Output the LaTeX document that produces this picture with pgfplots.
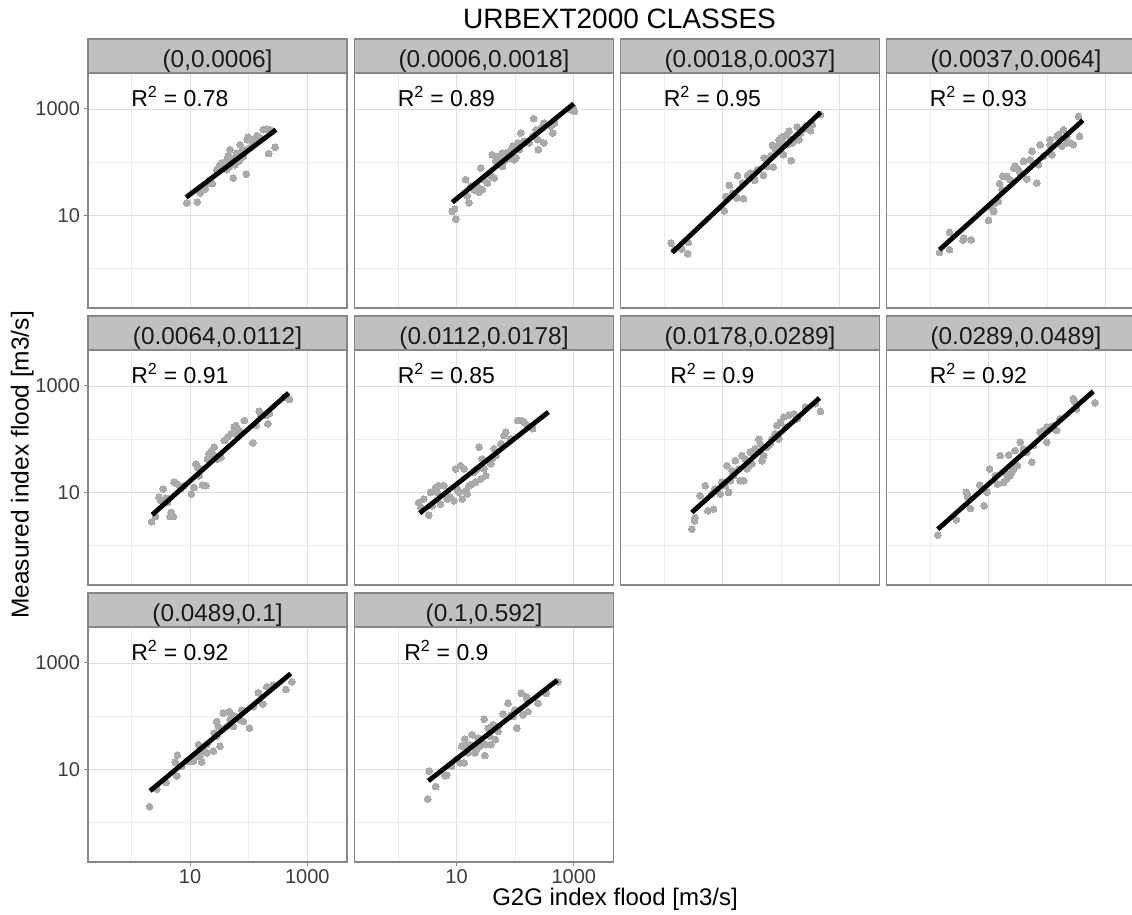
\documentclass[border=0pt]{standalone}
\usepackage{pgfplots}
\pgfplotsset{compat=1.18}
\usepackage{fontspec}
\setmainfont{Liberation Sans}
\definecolor{gridmaj}{RGB}{222,222,222}
\definecolor{gridmin}{RGB}{236,236,236}
\definecolor{frame}{RGB}{135,135,135}
\definecolor{stripfill}{RGB}{192,192,192}
\definecolor{ptc}{RGB}{170,170,170}
\definecolor{ticklab}{RGB}{60,60,60}
\definecolor{striptext}{RGB}{26,26,26}
\pgfplotsset{
  facet/.style={
    scale only axis, width=259pt, height=235pt,
    xmin=0.1815, xmax=4750, ymin=0.1815, ymax=4750,
    xtick={10,1000}, ytick={10,1000},
    xticklabels={10,1000}, yticklabels={10,1000},
    minor xtick={1,100}, minor ytick={1,100},
    grid=both,
    major grid style={draw=gridmaj, line width=0.9pt},
    minor grid style={draw=gridmin, line width=0.5pt},
    axis line style={draw=frame, line width=1.2pt},
    tick align=outside, tick pos=left,
    major tick length=4.5pt, minor tick length=0pt,
    tick style={draw=frame, line width=1pt},
    ticklabel style={font=\fontsize{20}{20}\selectfont, text=ticklab},
    clip marker paths=true,
    anchor=south west,
  },
  noxlab/.style={xticklabels={}, xtick style={draw=none}},
  noylab/.style={yticklabels={}, ytick style={draw=none}},
  pts/.style={ptc, only marks, mark=*, mark size=3.4pt, mark options={draw=ptc, fill=ptc, line width=0pt}},
  fitl/.style={black, line width=4.8pt},
}
\newcommand{\rsq}[1]{\node[anchor=base, font=\fontsize{23}{23}\selectfont] at (axis cs:6.7,1100) {R\textsuperscript{2} = #1};}
\newcommand{\strip}[3]{\draw[draw=frame, fill=stripfill, line width=1.2pt] (#1pt,#2pt) rectangle ++(259pt,34pt);
  \node[anchor=base, font=\fontsize{24.4}{24.4}\selectfont, text=striptext] at (#1pt+129.5pt,#2pt+5.5pt) {#3};}
\begin{document}
\begin{tikzpicture}[x=1pt,y=1pt]
% ---------- Row 1 ----------
\begin{loglogaxis}[facet, noxlab, at={(88pt,607pt)}]
\addplot[pts] coordinates {(8.77,17.1)(13.3,17.8)(18.0,31.3)(19.7,39.4)(24.0,39.4)(32.4,89.7)(37.0,77.6)(42.2,108)(48.1,172)(51.3,120)(54.8,50.4)(58.5,89.7)(62.4,149)(66.7,104)(71.1,213)(76.0,160)(81.1,129)(90.2,59.8)(94.8,265)(98.6,297)(105,185)(120,230)(137,315)(156,285)(178,408)(203,421)(219,145)(247,380)(281,190)(42.2,72.3)(48.1,83.5)(54.8,104)(62.4,120)(71.1,111)(86.7,172)(28.5,72.3)(14.8,26.3)(21.9,46.9)(34.7,96.4)(45.0,129)(120,265)(231,408)};
\addplot[fitl] coordinates {(8.55,21.8)(292,408)};
\rsq{0.78}
\end{loglogaxis}
\begin{loglogaxis}[facet, noxlab, noylab, at={(354.5pt,607pt)}]
\addplot[pts] coordinates {(8.43,11.9)(9.25,13.2)(9.75,8.53)(14.3,46.9)(15.2,23.4)(16.3,17.1)(17.4,35.1)(19.8,30.4)(22.6,35.1)(24.2,27.1)(25.8,77.6)(27.5,30.4)(29.4,46.9)(33.6,40.6)(38.3,54.2)(40.8,138)(43.6,50.4)(49.8,96.4)(53.2,129)(60.7,83.5)(64.7,104)(73.9,129)(84.3,172)(90.0,199)(96.2,111)(103,120)(110,230)(117,172)(125,354)(143,247)(174,230)(198,306)(206,658)(226,408)(241,265)(248,172)(275,440)(306,230)(314,546)(408,472)(437,354)(467,546)(900,971)(962,1045)(1026,904)(46.7,104)(69.2,149)(78.9,120)(60.7,149)};
\addplot[fitl] coordinates {(8.43,17.6)(1000,1259)};
\rsq{0.89}
\end{loglogaxis}
\begin{loglogaxis}[facet, noxlab, noylab, at={(620.5pt,607pt)}]
\addplot[pts] coordinates {(1.32,3.02)(1.51,2.26)(2.01,2.33)(2.54,1.90)(2.61,3.10)(10.7,12.2)(11.4,22.7)(13.0,36.6)(14.8,26.3)(17.5,21.2)(18.0,55.7)(22.8,20.6)(26.6,56.5)(30.3,62.5)(35.5,45.5)(39.4,72.3)(49.8,56.5)(51.1,120)(58.2,111)(66.4,132)(70.8,208)(73.6,81.1)(80.7,172)(91.9,265)(98.2,285)(109,138)(112,306)(124,329)(136,380)(145,265)(149,107)(155,230)(165,247)(176,285)(188,458)(201,265)(214,354)(238,408)(261,472)(317,391)(339,507)(469,782)(21.9,40.6)(32.4,50.4)(58.2,83.5)(86.1,199)(105,230)(127,213)};
\addplot[fitl] coordinates {(1.38,2.01)(469,865)};
\rsq{0.95}
\end{loglogaxis}
\begin{loglogaxis}[facet, noxlab, noylab, at={(886.5pt,607pt)}]
\addplot[pts] coordinates {(1.46,2.01)(2.16,2.26)(2.16,4.79)(3.66,3.39)(3.75,3.75)(5.07,3.48)(10.0,8.05)(11.4,13.7)(13.0,17.1)(14.8,18.3)(15.4,39.4)(17.5,54.2)(20.5,54.2)(23.4,46.9)(26.7,77.6)(28.5,83.5)(32.4,72.3)(39.5,104)(45.0,48.2)(51.3,111)(54.8,160)(58.5,96.4)(66.7,40.6)(71.1,89.7)(76.0,213)(86.7,129)(112,265)(120,138)(146,306)(156,329)(178,199)(190,408)(216,306)(247,230)(281,213)(342,728)(356,306)(34.7,62.5)(16.9,30.4)(12.2,11.9)(112,213)(216,230)};
\addplot[fitl] coordinates {(1.46,2.26)(406,612)};
\rsq{0.93}
\end{loglogaxis}
% ---------- Row 2 ----------
\begin{loglogaxis}[facet, noxlab, at={(88pt,330pt)}]
\addplot[pts] coordinates {(2.20,2.80)(2.58,3.52)(2.94,8.05)(3.14,6.97)(3.49,11.6)(3.83,7.71)(4.54,3.52)(4.79,4.20)(5.18,3.52)(5.32,15.5)(6.07,14.4)(7.89,13.4)(10.5,9.31)(11.7,12.4)(12.5,34.3)(13.4,29.6)(15.2,27.6)(16.3,13.7)(18.6,13.4)(19.8,42.6)(21.2,52.8)(22.6,58.5)(25.8,70.6)(29.4,42.6)(33.6,45.7)(38.3,94.4)(43.6,109)(49.8,126)(56.8,168)(60.7,181)(69.2,146)(84.3,225)(117,85.3)(134,181)(152,333)(198,280)(212,195)(226,301)(408,619)(498,560)(4.08,6.47)(6.92,11.6)(14.3,20.6)(25.8,49.2)(60.7,126)(163,280)};
\addplot[fitl] coordinates {(2.26,3.79)(479,738)};
\rsq{0.91}
\end{loglogaxis}
\begin{loglogaxis}[facet, noxlab, noylab, at={(354.5pt,330pt)}]
\addplot[pts] coordinates {(2.26,6.47)(2.48,5.21)(2.75,7.48)(3.36,3.73)(3.58,10.0)(3.83,5.60)(4.37,12.4)(4.67,10.0)(4.98,13.4)(5.32,6.03)(6.07,13.4)(6.92,7.48)(7.89,8.05)(9.00,6.97)(9.61,27.6)(10.3,11.6)(11.0,10.0)(11.7,31.8)(12.5,7.48)(13.4,27.6)(14.3,10.7)(15.2,9.31)(16.3,13.4)(18.6,14.4)(19.8,23.8)(21.2,15.5)(24.2,70.6)(25.8,17.9)(27.5,42.6)(29.4,27.6)(31.4,20.6)(33.6,39.5)(38.3,34.3)(40.8,42.6)(43.6,65.8)(46.7,49.2)(56.8,81.7)(64.7,117)(69.2,136)(84.3,101)(110,225)(125,225)(143,209)(163,181)(198,157)(22.6,27.6)};
\addplot[fitl] coordinates {(2.35,4.07)(368,323)};
\rsq{0.85}
\end{loglogaxis}
\begin{loglogaxis}[facet, noxlab, noylab, at={(620.5pt,330pt)}]
\addplot[pts] coordinates {(2.99,2.03)(3.32,2.92)(3.41,3.37)(4.15,8.65)(5.06,13.4)(5.61,4.51)(6.58,9.31)(7.02,4.85)(7.50,11.6)(9.12,9.31)(9.75,15.5)(11.1,13.4)(11.9,31.8)(12.7,10.0)(13.5,16.6)(15.4,20.6)(16.5,39.5)(18.8,27.6)(20.0,16.6)(21.4,49.2)(22.9,16.6)(24.4,42.6)(27.8,31.8)(29.7,56.9)(31.7,34.3)(36.1,65.8)(41.2,101)(44.1,81.7)(47.0,39.5)(50.2,49.2)(57.3,70.6)(65.3,81.7)(69.7,101)(79.4,126)(84.9,181)(90.6,101)(96.8,209)(110,260)(118,168)(134,280)(164,301)(187,242)(259,402)(384,465)(468,333)(14.5,25.6)(26.1,27.6)(61.1,76.0)};
\addplot[fitl] coordinates {(2.99,4.20)(449,594)};
\rsq{0.9}
\end{loglogaxis}
\begin{loglogaxis}[facet, noxlab, noylab, at={(886.5pt,330pt)}]
\addplot[pts] coordinates {(1.36,1.57)(2.82,3.05)(4.17,10.0)(4.40,8.41)(4.88,4.99)(7.03,13.7)(8.43,5.60)(9.37,10.0)(10.4,27.6)(13.0,20.6)(14.2,14.4)(15.8,49.2)(18.0,15.5)(19.2,23.8)(21.9,50.6)(23.3,20.6)(24.9,23.8)(26.6,27.6)(28.4,61.1)(31.1,31.8)(34.5,87.7)(39.4,65.8)(44.9,56.9)(54.6,36.8)(75.5,136)(86.1,146)(98.2,87.7)(112,157)(127,181)(145,146)(165,242)(279,577)(297,499)(317,373)(650,485)(20.5,17.9)(26.6,34.3)(58.2,76.0)(98.2,168)};
\addplot[fitl] coordinates {(1.36,2.03)(610,793)};
\rsq{0.92}
\end{loglogaxis}
% ---------- Row 3 ----------
\begin{loglogaxis}[facet, at={(88pt,53pt)}]
\addplot[pts] coordinates {(2.03,1.99)(2.70,4.24)(3.90,5.65)(5.55,13.7)(6.08,18.5)(5.93,7.52)(7.21,11.5)(8.77,14.3)(10.0,14.3)(11.4,14.3)(13.0,17.7)(13.9,29.2)(14.8,17.7)(15.8,13.7)(16.9,23.6)(19.2,29.2)(25.0,22.0)(25.6,48.2)(28.5,79.6)(30.4,64.1)(32.4,27.2)(34.7,55.6)(37.0,114)(42.2,64.1)(46.8,122)(51.3,106)(54.8,64.1)(62.4,98.6)(71.1,85.5)(81.1,79.6)(103,59.7)(120,151)(146,276)(173,170)(203,357)(263,384)(433,318)(541,443)(19.2,20.5)(28.5,41.8)(48.1,85.5)(76.0,131)};
\addplot[fitl] coordinates {(2.08,3.94)(520,632)};
\rsq{0.92}
\end{loglogaxis}
\begin{loglogaxis}[facet, noylab, at={(354.5pt,53pt)}]
\addplot[pts] coordinates {(3.21,2.76)(3.39,9.31)(4.40,4.75)(6.34,7.52)(6.76,7.73)(8.22,11.5)(10.0,15.3)(11.4,13.3)(12.2,27.2)(13.5,13.3)(13.9,37.2)(14.8,27.2)(15.8,20.5)(16.9,29.2)(18.5,44.9)(20.5,20.5)(21.9,23.6)(23.3,38.9)(24.9,27.2)(29.5,87.9)(30.3,18.2)(31.1,29.2)(34.5,59.7)(38.4,29.2)(42.0,69.0)(46.0,36.2)(51.1,51.8)(62.1,110)(75.5,175)(86.1,106)(91.8,98.6)(107,59.7)(127,269)(136,106)(155,232)(165,122)(244,175)(339,269)(535,443)(26.6,36.2)(36.9,41.8)(51.1,64.1)(98.2,131)(165,201)};
\addplot[fitl] coordinates {(3.30,6.07)(521,475)};
\rsq{0.9}
\end{loglogaxis}
% ---------- Strips ----------
\strip{88}{842}{(0,0.0006]}
\strip{354.5}{842}{(0.0006,0.0018]}
\strip{620.5}{842}{(0.0018,0.0037]}
\strip{886.5}{842}{(0.0037,0.0064]}
\strip{88}{565}{(0.0064,0.0112]}
\strip{354.5}{565}{(0.0112,0.0178]}
\strip{620.5}{565}{(0.0178,0.0289]}
\strip{886.5}{565}{(0.0289,0.0489]}
\strip{88}{288}{(0.0489,0.1]}
\strip{354.5}{288}{(0.1,0.592]}
% ---------- Titles ----------
\node[font=\fontsize{28}{28}\selectfont] at (619.5pt,896pt) {URBEXT2000 CLASSES};
\node[anchor=base, font=\fontsize{24}{24}\selectfont] at (615pt,9pt) {G2G index flood [m3/s]};
\node[rotate=90, anchor=base, font=\fontsize{24.5}{24.5}\selectfont] at (28.5pt,450pt) {Measured index flood [m3/s]};
\pgfresetboundingbox
\path[use as bounding box] (0pt,0pt) rectangle (1132pt,915pt);
\end{tikzpicture}
\end{document}
